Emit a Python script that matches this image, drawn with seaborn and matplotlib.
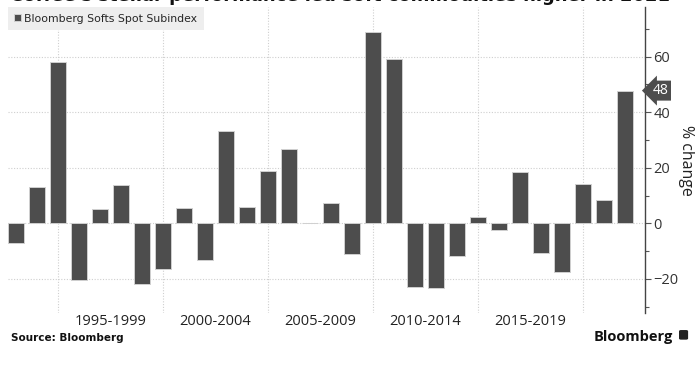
import matplotlib
matplotlib.use('Agg')
import matplotlib.pyplot as plt
import matplotlib.transforms as mtransforms
from matplotlib.patches import FancyBboxPatch
from matplotlib.ticker import MultipleLocator, FixedLocator, NullFormatter
import seaborn as sns
import pandas as pd

# Annual % change, Bloomberg Softs Spot Subindex
years = list(range(1992, 2022))
changes = [-7.2, 13.0, 58.2, -20.4, 5.2, 13.8, -21.8, -16.5, 5.6, -13.2,
           33.3, 6.0, 18.7, 26.7, 0.0, 7.2, -11.1, 69.0, 59.1, -22.8,
           -23.2, -11.8, 2.2, -2.5, 18.6, -10.6, -17.7, 14.0, 8.3, 47.8]
period_labels = ['1995-1999', '2000-2004', '2005-2009', '2010-2014', '2015-2019']
period_starts = [1995, 2000, 2005, 2010, 2015]
series_name = 'Bloomberg Softs Spot Subindex'
title = "Coffee's stellar performance led soft commodities higher in 2021"

BAR = '#4d4d4d'
GRID = '#cfcfcf'

df = pd.DataFrame({'year': years, 'change': changes})
# bars sit at the end of each calendar year
df['year_end'] = df['year'] + 1

sns.set_style('white')
plt.rcParams['font.family'] = ['Open Sans', 'DejaVu Sans']

fig = plt.figure(figsize=(7, 3.7), dpi=100)
ax = fig.add_axes([0.0114, 0.154, 0.91, 0.827])

sns.barplot(data=df, x='year_end', y='change', native_scale=True, color=BAR,
            width=0.76, edgecolor='#d0d0d0', linewidth=0.7, saturation=1,
            label=series_name, ax=ax, zorder=3)

ax.set_xlim(1992.62, 2022.95)
ax.set_ylim(-32.3, 77.9)

# y axis on the right
ax.yaxis.tick_right()
ax.yaxis.set_label_position('right')
ax.yaxis.set_major_locator(MultipleLocator(20))
ax.yaxis.set_minor_locator(FixedLocator([-30, -10, 10, 30, 50, 70]))
ax.tick_params(axis='y', which='major', length=4, width=0.8, color='#555555',
               labelsize=10.5, labelcolor='#333333', pad=2, direction='out')
ax.tick_params(axis='y', which='minor', length=3, width=0.8, color='#555555')
ax.set_ylabel('% change', rotation=270, labelpad=11, fontsize=11.5, color='#222222')

# x axis: gridlines at period starts, labels centred between them
ax.xaxis.set_major_locator(FixedLocator(period_starts + [2020]))
ax.xaxis.set_major_formatter(NullFormatter())
ax.xaxis.set_minor_locator(FixedLocator([s + 2.5 for s in period_starts]))
ax.set_xticklabels(period_labels, minor=True)
ax.tick_params(axis='x', which='both', length=0, labelsize=10.5,
               labelcolor='#222222', pad=1)
ax.set_xlabel('')

ax.grid(True, which='major', axis='both', linestyle=(0, (1, 1.5)),
        color=GRID, linewidth=0.8, zorder=0)
for side in ['top', 'left', 'bottom']:
    ax.spines[side].set_visible(False)
ax.spines['right'].set_color('#444444')
ax.spines['right'].set_linewidth(1.0)

leg = ax.legend(loc='upper left', borderaxespad=0, frameon=True, fancybox=False,
                facecolor='#eeeeee', edgecolor='none', framealpha=1,
                handlelength=0.6, handleheight=0.6, handletextpad=0.3,
                borderpad=0.6, prop={'family': 'Liberation Sans Narrow', 'size': 7.8})
leg.get_frame().set_linewidth(0)

# last value tag
last = df['change'].iloc[-1]
trans = mtransforms.blended_transform_factory(ax.transAxes, ax.transData)
ax.text(1.012, last, f'{last:.0f}', transform=trans, va='center', ha='left',
        fontsize=10, color='white',
        bbox=dict(boxstyle='larrow,pad=0.18', fc=BAR, ec='none'))

# headline sits mostly above the crop, as in the source image
fig.text(0.014, 1 - 1.0 / 370, title, fontsize=13, fontweight='bold',
         color='#111111', va='baseline', ha='left', family='DejaVu Sans')
fig.text(0.016, 0.078, 'Source: Bloomberg', fontsize=7.5, fontweight='bold',
         color='#111111', family='DejaVu Sans')
fig.text(0.962, 0.078, 'Bloomberg', fontsize=10.5, fontweight='bold',
         color='#111111', ha='right')
# small logo mark next to the wordmark
fig.patches.append(FancyBboxPatch((0.97, 0.082), 0.013, 0.026,
                                  boxstyle='round,pad=0,rounding_size=0.003',
                                  transform=fig.transFigure, fc='#222222', ec='none'))

fig.savefig('out.png', dpi=100)
